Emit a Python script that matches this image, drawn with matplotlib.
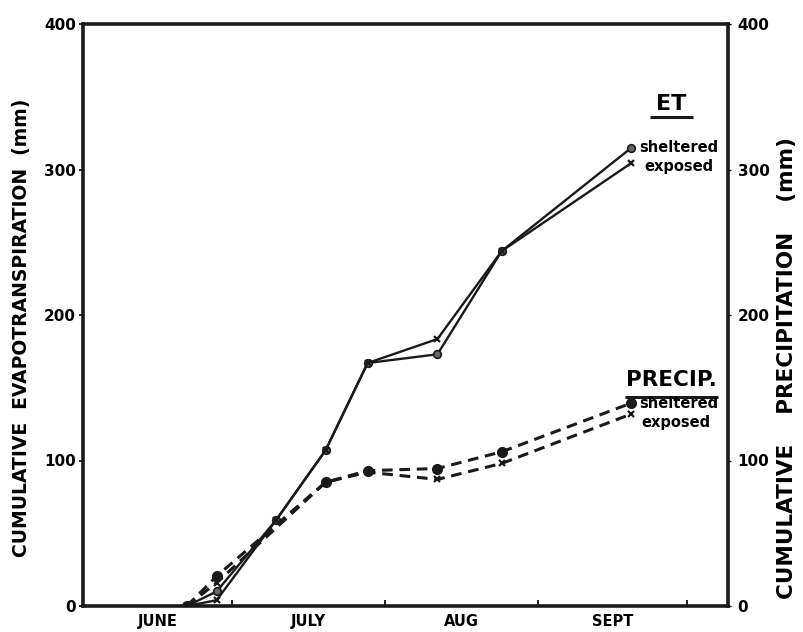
import matplotlib
matplotlib.use('Agg')
import matplotlib.pyplot as plt

# days counted from 1 June
MONTHS       = ['JUNE', 'JULY', 'AUG', 'SEPT']
MONTH_MID    = [15, 45.5, 76.5, 107]
MONTH_BOUNDS = [30, 61, 92, 122]

ET_DAYS       = [21, 27, 39, 49, 57.5, 71.6, 84.6, 110.8]
ET_SHELTERED  = [0, 10, 59, 107, 167, 173, 244, 315]
ET_EXPOSED    = [0, 4, 59, 107, 167, 183.5, 244, 304.5]

PR_DAYS       = [21, 27, 49, 57.5, 71.6, 84.6, 110.8]
PR_SHELTERED  = [0, 20.5, 85, 93, 94.5, 106, 139.5]
PR_EXPOSED    = [0, 16, 85, 92, 87, 98, 132]

YTICKS = [0, 100, 200, 300, 400]

plt.rcParams['font.family'] = ['DejaVu Sans']
plt.rcParams['font.weight'] = 'bold'

fig = plt.figure(figsize=(8.04, 6.32), dpi=100)
ax = fig.add_axes([83 / 804, 26 / 632, 645 / 804, 582 / 632])

ink = '#1a1a1a'
ax.plot(ET_DAYS, ET_SHELTERED, color=ink, lw=1.7, marker='o', ms=5.5,
        mfc='#666666', mec=ink, mew=1.2)
ax.plot(ET_DAYS, ET_EXPOSED, color=ink, lw=1.7, marker='x', ms=5, mew=1.6)
ax.plot(PR_DAYS, PR_SHELTERED, color=ink, lw=2.2, ls=(0, (3.5, 2.2)),
        marker='o', ms=7, mfc=ink, mec=ink)
ax.plot(PR_DAYS, PR_EXPOSED, color=ink, lw=2.2, ls=(0, (3.5, 2.2)),
        marker='x', ms=5, mew=1.6)

ax.set_xlim(0, 130.3)
ax.set_ylim(0, 400)
for s in ax.spines.values():
    s.set_linewidth(2.6)
    s.set_color(ink)

ax.set_xticks(MONTH_BOUNDS)
ax.set_xticklabels([])
ax.tick_params(axis='x', which='major', direction='in', length=4, width=1.2)
ax.set_xticks(MONTH_MID, minor=True)
ax.set_xticklabels(MONTHS, minor=True, fontsize=10.5, fontweight='bold')
ax.tick_params(axis='x', which='minor', length=0, pad=6)

ax.set_yticks(YTICKS)
ax.set_yticklabels([str(v) for v in YTICKS], fontsize=11, fontweight='bold')
ax.tick_params(axis='y', direction='out', length=3, width=1.2, pad=2)

ax2 = ax.twinx()
ax2.set_ylim(0, 400)
ax2.set_yticks(YTICKS)
ax2.set_yticklabels([str(v) for v in YTICKS], fontsize=11, fontweight='bold')
ax2.tick_params(axis='y', direction='out', length=2, width=1.0, pad=5)
for s in ax2.spines.values():
    s.set_visible(False)

# annotations
ax.text(118.9, 345, 'ET', fontsize=16, fontweight='bold', ha='center', va='center')
ax.plot([114.5, 123.2], [336, 336], color=ink, lw=2.2, solid_capstyle='butt')
ax.text(112.4, 315, 'sheltered', fontsize=10.5, fontweight='bold', va='center')
ax.text(113.4, 302, 'exposed', fontsize=10.5, fontweight='bold', va='center')

ax.text(118.9, 155, 'PRECIP.', fontsize=15.5, fontweight='bold', ha='center', va='center')
ax.plot([109.5, 128.3], [143.6, 143.6], color=ink, lw=2.2, solid_capstyle='butt')
ax.text(112.4, 139, 'sheltered', fontsize=10.5, fontweight='bold', va='center')
ax.text(112.8, 126, 'exposed', fontsize=10.5, fontweight='bold', va='center')

fig.text(22 / 804, 1 - 328 / 632, 'CUMULATIVE  EVAPOTRANSPIRATION  (mm)',
         rotation=90, ha='center', va='center', fontsize=13.5, fontweight='bold')
fig.text(787 / 804, 1 - 368 / 632, 'CUMULATIVE    PRECIPITATION    (mm)',
         rotation=90, ha='center', va='center', fontsize=15.5, fontweight='bold')

fig.savefig('out.png', dpi=100)
